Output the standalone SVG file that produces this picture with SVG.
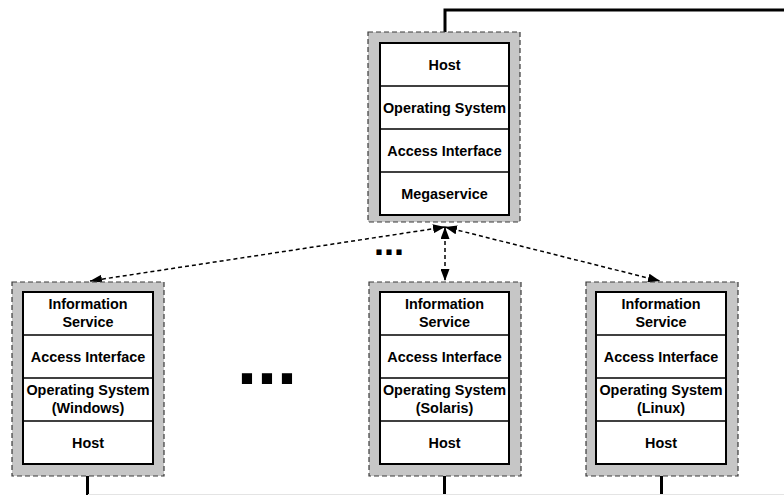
<svg xmlns="http://www.w3.org/2000/svg" width="784" height="495" viewBox="0 0 784 495">
<style>
.outer{fill:#c6c6c6;stroke:#3a3a3a;stroke-width:1.2;stroke-dasharray:5,3}
.inner{fill:#fff;stroke:#000;stroke-width:2}
.div{stroke:#000;stroke-width:1.5}
.t{font-family:"Liberation Sans",Arial,sans-serif;font-weight:bold;font-size:14.4px;text-anchor:middle;fill:#000}
.thick{fill:none;stroke:#000;stroke-width:3}
.dash{fill:none;stroke:#000;stroke-width:1.5;stroke-dasharray:4,3}
.dots{font-family:"Liberation Sans",Arial,sans-serif;font-weight:bold;fill:#000}
</style>
<defs>
<marker id="ah" viewBox="0 0 12 9" refX="12" refY="4.5" markerWidth="12" markerHeight="9" markerUnits="userSpaceOnUse" orient="auto-start-reverse">
<path d="M0,0 L12,4.5 L0,9 Z" fill="#000"/>
</marker>
</defs>
<g id="connectors">
<path class="thick" d="M445,43 V10 H784"/>
<path class="thick" d="M87.5,464 V495"/>
<path class="thick" d="M444.5,464 V495"/>
<path class="thick" d="M661.5,464 V495"/>
<line x1="88" y1="494.5" x2="784" y2="494.5" stroke="#e4e4e4" stroke-width="1"/>
<line class="dash" x1="445" y1="227" x2="90" y2="281" marker-start="url(#ah)" marker-end="url(#ah)"/>
<line class="dash" x1="445" y1="227" x2="660" y2="281" marker-start="url(#ah)" marker-end="url(#ah)"/>
<line class="dash" x1="445" y1="227" x2="445" y2="281" marker-start="url(#ah)" marker-end="url(#ah)"/>
</g>
<g id="megaservice-node">
<rect class="outer" x="368" y="32" width="152" height="190"/>
<rect class="inner" x="380" y="43" width="129" height="172"/>
<line class="div" x1="380" y1="86" x2="509" y2="86"/>
<line class="div" x1="380" y1="129" x2="509" y2="129"/>
<line class="div" x1="380" y1="172" x2="509" y2="172"/>
<text class="t" x="444.5" y="69.5">Host</text>
<text class="t" x="444.5" y="112.5">Operating System</text>
<text class="t" x="444.5" y="155.5">Access Interface</text>
<text class="t" x="444.5" y="198.5">Megaservice</text>
</g>
<g id="windows-node">
<rect class="outer" x="12" y="282" width="152" height="194"/>
<rect class="inner" x="23" y="292" width="130" height="172"/>
<line class="div" x1="23" y1="335" x2="153" y2="335"/>
<line class="div" x1="23" y1="378" x2="153" y2="378"/>
<line class="div" x1="23" y1="421" x2="153" y2="421"/>
<text class="t" x="88" y="309">Information</text>
<text class="t" x="88" y="327">Service</text>
<text class="t" x="88" y="361.5">Access Interface</text>
<text class="t" x="88" y="395">Operating System</text>
<text class="t" x="88" y="413">(Windows)</text>
<text class="t" x="88" y="447.5">Host</text>
</g>
<g id="solaris-node">
<rect class="outer" x="369" y="282" width="152" height="194"/>
<rect class="inner" x="380" y="292" width="129" height="172"/>
<line class="div" x1="380" y1="335" x2="509" y2="335"/>
<line class="div" x1="380" y1="378" x2="509" y2="378"/>
<line class="div" x1="380" y1="421" x2="509" y2="421"/>
<text class="t" x="444.5" y="309">Information</text>
<text class="t" x="444.5" y="327">Service</text>
<text class="t" x="444.5" y="361.5">Access Interface</text>
<text class="t" x="444.5" y="395">Operating System</text>
<text class="t" x="444.5" y="413">(Solaris)</text>
<text class="t" x="444.5" y="447.5">Host</text>
</g>
<g id="linux-node">
<rect class="outer" x="586" y="282" width="152" height="194"/>
<rect class="inner" x="596" y="292" width="130" height="172"/>
<line class="div" x1="596" y1="335" x2="726" y2="335"/>
<line class="div" x1="596" y1="378" x2="726" y2="378"/>
<line class="div" x1="596" y1="421" x2="726" y2="421"/>
<text class="t" x="661" y="309">Information</text>
<text class="t" x="661" y="327">Service</text>
<text class="t" x="661" y="361.5">Access Interface</text>
<text class="t" x="661" y="395">Operating System</text>
<text class="t" x="661" y="413">(Linux)</text>
<text class="t" x="661" y="447.5">Host</text>
</g>
<text class="dots" x="374" y="255" font-size="36">...</text>
<text class="dots" x="237" y="384" font-size="72">...</text>
</svg>
